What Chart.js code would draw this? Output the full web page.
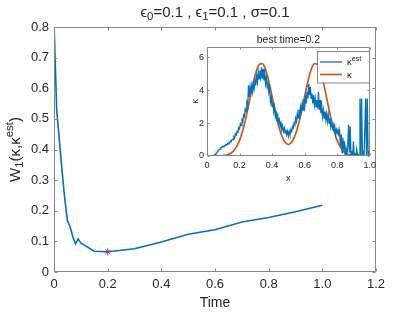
<!DOCTYPE html>
<html><head><meta charset="utf-8">
<script src="https://cdn.jsdelivr.net/npm/chart.js@4.4.0/dist/chart.umd.min.js"></script>
<style>
html,body{margin:0;padding:0;background:#fff;}
#wrap{position:relative;width:415px;height:312px;background:#fff;}
#main{position:absolute;left:0;top:0;}
#inset{position:absolute;left:180px;top:30px;}
</style></head><body>
<div id="wrap"><canvas id="main" width="415" height="312"></canvas><canvas id="inset" width="200" height="160"></canvas></div>
<script>
const FONT = "'Liberation Sans', Arial, Helvetica, sans-serif";
const TXT = '#262626';
const AX = '#868686';

// ---- main chart data ----
const times = [0,0.01,0.02,0.03,0.04,0.05,0.06,0.07,0.08,0.09,0.1,0.15,0.2,0.3,0.4,0.5,0.6,0.7,0.8,0.9,1.0];
const w1 = [0.815,0.53,0.43,0.33,0.24,0.167,0.148,0.115,0.092,0.108,0.095,0.068,0.066,0.076,0.098,0.123,0.138,0.163,0.178,0.197,0.218];
const bestTime = [0.2];
const bestW1 = [0.066];
const mainXTicks = [0,0.2,0.4,0.6,0.8,1,1.2];
const mainYTicks = [0,0.1,0.2,0.3,0.4,0.5,0.6,0.7,0.8];

// ---- inset data ----
const kEstStep = 0.005;
const kEst = [
 0,0,0,0,0,0,0,0.01,0.03,0.06,
 0.1,0.16,0.2,0.28,0.33,0.4,0.42,0.5,0.52,0.58,
 0.55,0.63,0.62,0.7,0.66,0.75,0.72,0.82,0.8,0.92,
 0.88,1.02,1.0,1.18,1.12,1.35,1.28,1.5,1.45,1.72,
 1.65,1.95,1.85,2.2,2.1,2.5,2.4,2.85,2.7,3.2,
 3.0,4.3,3.6,4.2,3.8,4.3,3.9,4.4,4.1,4.6,
 4.3,4.9,4.5,5.1,4.7,5.2,4.8,5.4,4.7,5.3,
 4.6,5.0,4.4,4.8,4.2,4.4,3.9,4.1,3.3,3.6,
 3.0,3.3,2.7,3.0,2.4,2.6,2.1,2.4,2.0,2.2,
 1.8,2.0,1.6,1.8,1.5,1.7,1.4,1.6,1.3,1.5,
 1.2,1.5,1.3,1.6,1.5,1.8,1.7,2.0,1.9,2.3,
 2.1,2.6,2.3,2.8,2.5,3.0,2.7,3.2,2.8,3.4,
 3.0,3.6,3.2,3.9,3.5,4.4,3.7,4.2,3.5,3.8,
 3.2,3.7,3.1,3.5,3.0,3.4,2.9,3.9,2.8,3.4,
 2.6,3.0,2.4,2.8,2.3,2.7,2.2,2.6,2.1,2.5,
 2.0,2.3,1.8,2.1,1.7,1.9,1.5,1.8,1.3,1.6,
 1.4,1.6,1.2,1.5,0.6,1.3,0.2,1.1,0.4,0.9,
 -0.3,0.4,0.1,0.6,1.9,0.2,1.8,-0.2,0.3,0.0,
 0.9,-0.2,0.1,0.0,0.4,0.0,0.1,0.0,3.5,0.0,
 3.5,0.0,0.2,0.0,0.0,3.5,0.0,3.5,0.0,0.3,
 0.0
];
const kTrueStep = 0.02;
const kTrue = [
 0,0,0,0,0.01,0.03,0.06,0.13,0.28,0.54,
 0.95,1.57,2.36,3.30,4.25,5.06,5.55,5.62,5.26,4.53,
 3.62,2.68,1.84,1.22,0.83,0.70,0.83,1.22,1.84,2.68,
 3.62,4.53,5.26,5.62,5.55,5.06,4.25,3.30,2.36,1.57,
 0.95,0.54,0.28,0.13,0.06,0.03,0.01,0,0,0,
 0
];
const insetXTicks = [0,0.2,0.4,0.6,0.8,1];
const insetYTicks = [0,2,4,6];
const insetTitle = 'best time=0.2';
const seriesLabels = [[{t:'\u03BA'},{t:'est',k:'sup'}],[{t:'\u03BA'}]];

// ---- helpers ----
function drawRich(ctx, segs, x, y, base, align, rot, color){
  ctx.save();
  ctx.translate(x,y); ctx.rotate(rot||0);
  ctx.fillStyle = color||TXT; ctx.textBaseline='alphabetic'; ctx.textAlign='left';
  const parts = segs.map(s=>{const size = s.k? base*0.76 : base; ctx.font = size+'px '+FONT; return {t:s.t,k:s.k,size,w:ctx.measureText(s.t).width};});
  const total = parts.reduce((a,p)=>a+p.w,0);
  let cx = align==='center' ? -total/2 : (align==='right'? -total : 0);
  parts.forEach(p=>{ctx.font=p.size+'px '+FONT; const dy = p.k==='sub'? base*0.22 : (p.k==='sup'? -base*0.42 : 0); ctx.fillText(p.t,cx,dy); cx+=p.w;});
  ctx.restore();
  return total;
}
function boxPlugin(len){
  return {id:'boxticks', afterDatasetsDraw(chart){
    const {ctx, chartArea:a, scales:{x,y}} = chart;
    ctx.save(); ctx.strokeStyle=AX; ctx.lineWidth=1; ctx.beginPath();
    const L=Math.round(a.left)+0.5, R=Math.round(a.right)-0.5, T=Math.round(a.top)+0.5, B=Math.round(a.bottom)-0.5;
    ctx.rect(L,T,R-L,B-T);
    x.ticks.forEach(t=>{const p=Math.round(x.getPixelForValue(t.value))+0.5; ctx.moveTo(p,B); ctx.lineTo(p,B-len); ctx.moveTo(p,T); ctx.lineTo(p,T+len);});
    y.ticks.forEach(t=>{const p=Math.round(y.getPixelForValue(t.value))+0.5; ctx.moveTo(L,p); ctx.lineTo(L+len,p); ctx.moveTo(R,p); ctx.lineTo(R-len,p);});
    ctx.stroke(); ctx.restore();
  }};
}
function textPlugin(fn){ return {id:'richtext', afterDraw(chart){ fn(chart.ctx, chart.chartArea); }}; }
const tickSetter = arr => s => { s.ticks = arr.map(v=>({value:v})); };

// ---- main chart ----
new Chart(document.getElementById('main'), {
  type:'line',
  data:{datasets:[
    {data: times.map((t,i)=>({x:t,y:w1[i]})), borderColor:'#0072BD', borderWidth:1.6, pointRadius:0, tension:0, fill:false},
    {data: bestTime.map((t,i)=>({x:t,y:bestW1[i]})), showLine:false, pointStyle:'star', pointRadius:3.5, borderColor:'#FF2020', backgroundColor:'#FF2020', borderWidth:1}
  ]},
  options:{
    responsive:false, animation:false, events:[],
    layout:{padding:{top:27,right:39,bottom:0,left:0}},
    scales:{
      x:{type:'linear', min:0, max:1.2, afterBuildTicks:tickSetter(mainXTicks), afterFit:s=>{s.height=40;},
         grid:{display:false, drawTicks:false}, border:{display:false},
         ticks:{font:{family:FONT,size:13}, color:TXT, padding:5, maxRotation:0, autoSkip:false}},
      y:{type:'linear', min:0, max:0.8, afterBuildTicks:tickSetter(mainYTicks), afterFit:s=>{s.width=54;},
         grid:{display:false, drawTicks:false}, border:{display:false},
         ticks:{font:{family:FONT,size:13}, color:TXT, padding:5, autoSkip:false}}
    },
    plugins:{legend:{display:false}, tooltip:{enabled:false}}
  },
  plugins:[boxPlugin(3), textPlugin((ctx,a)=>{
    const cx=(a.left+a.right)/2, cy=(a.top+a.bottom)/2;
    drawRich(ctx,[{t:'\u03F5'},{t:'0',k:'sub'},{t:'=0.1 , '},{t:'\u03F5'},{t:'1',k:'sub'},{t:'=0.1 , \u03C3=0.1'}], cx, 16.7, 15, 'center', 0, TXT);
    drawRich(ctx,[{t:'W'},{t:'1',k:'sub'},{t:'(\u03BA,\u03BA'},{t:'est',k:'sup'},{t:')'}], 19.5, cy, 15, 'center', -Math.PI/2, TXT);
    drawRich(ctx,[{t:'Time'}], cx, 306.7, 14, 'center', 0, TXT);
  })]
});

// ---- inset chart ----
new Chart(document.getElementById('inset'), {
  type:'line',
  data:{datasets:[
    {data: kEst.map((v,i)=>({x:+(i*kEstStep).toFixed(3), y:v})), borderColor:'#0072BD', borderWidth:1.3, pointRadius:0, tension:0, fill:false},
    {data: kTrue.map((v,i)=>({x:+(i*kTrueStep).toFixed(3), y:v})), borderColor:'#D95319', borderWidth:1.7, pointRadius:0, cubicInterpolationMode:'monotone', fill:false}
  ]},
  options:{
    responsive:false, animation:false, events:[],
    layout:{padding:{top:16.7,right:6,bottom:0,left:0}},
    scales:{
      x:{type:'linear', min:0, max:1, afterBuildTicks:tickSetter(insetXTicks), afterFit:s=>{s.height=34;},
         grid:{display:false, drawTicks:false}, border:{display:false},
         ticks:{font:{family:FONT,size:9}, color:TXT, padding:4, maxRotation:0, autoSkip:false}},
      y:{type:'linear', min:0, max:6.65, afterBuildTicks:tickSetter(insetYTicks), afterFit:s=>{s.width=27;},
         grid:{display:false, drawTicks:false}, border:{display:false},
         ticks:{font:{family:FONT,size:9}, color:TXT, padding:3, autoSkip:false}}
    },
    plugins:{legend:{display:false}, tooltip:{enabled:false}}
  },
  plugins:[boxPlugin(2), {id:'insetlegend', afterDatasetsDraw(chart){
      const ctx=chart.ctx; const bx=137, by=21, bw=52, bh=31.5;
      ctx.save();
      ctx.fillStyle='#fff'; ctx.fillRect(bx,by,bw,bh);
      ctx.strokeStyle=AX; ctx.lineWidth=1; ctx.strokeRect(bx+0.5,by+0.5,bw,bh);
      chart.data.datasets.forEach((ds,i)=>{
        const ly = by + 11 + i*12.5;
        ctx.strokeStyle=ds.borderColor; ctx.lineWidth=ds.borderWidth; ctx.beginPath(); ctx.moveTo(bx+3,ly); ctx.lineTo(bx+25,ly); ctx.stroke();
        drawRich(ctx, seriesLabels[i], bx+30, ly+3, 9.5, 'left', 0, TXT);
      });
      ctx.restore();
    }},
    textPlugin((ctx,a)=>{
      const cx=(a.left+a.right)/2, cy=(a.top+a.bottom)/2;
      drawRich(ctx,[{t:insetTitle}], cx, a.top-3.7, 10.5, 'center', 0, TXT);
      drawRich(ctx,[{t:'x'}], cx, 151, 9.5, 'center', 0, TXT);
      drawRich(ctx,[{t:'\u03BA'}], 17.5, cy, 9.5, 'center', -Math.PI/2, TXT);
    })]
});
</script>
</body></html>
